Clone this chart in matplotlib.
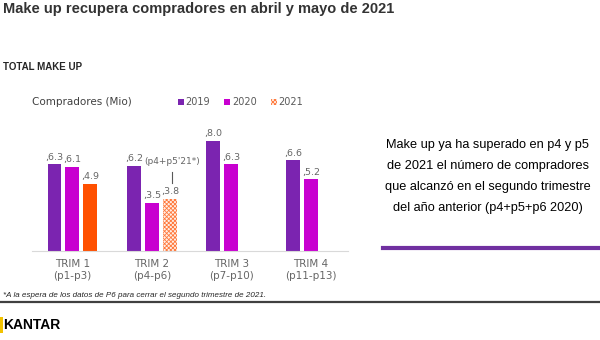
import matplotlib
matplotlib.use("Agg")
import matplotlib.pyplot as plt
import numpy as np
from matplotlib.patches import Rectangle
from matplotlib.lines import Line2D

# Data
quarters = ["TRIM 1", "TRIM 2", "TRIM 3", "TRIM 4"]
periods = ["(p1-p3)", "(p4-p6)", "(p7-p10)", "(p11-p13)"]
years = ["2019", "2020", "2021"]
buyers_2019 = [6.3, 6.2, 8.0, 6.6]
buyers_2020 = [6.1, 3.5, 6.3, 5.2]
buyers_2021 = [4.9, 3.8, None, None]

C2019 = "#7B24B0"
C2020 = "#C800D0"
C2021 = "#FF5000"
GREY = "#595959"

plt.rcParams["hatch.linewidth"] = 0.6

W, H = 600, 340
fig = plt.figure(figsize=(W / 100, H / 100), dpi=100)


def fx(x):
    return x / W


def fy(y):
    return 1 - y / H


# chart axes: left 32px, right 348px, baseline 250.7px, 13.7 px per unit
ax = fig.add_axes([fx(32), fy(250.7), fx(316), 137 / H])
ax.set_xlim(-0.509, 3.466)
ax.set_ylim(0, 10)
for s in ["top", "right", "left"]:
    ax.spines[s].set_visible(False)
ax.spines["bottom"].set_color("#D9D9D9")
ax.spines["bottom"].set_linewidth(0.8)
ax.set_yticks([])

x = np.arange(len(quarters))
bw = 0.176
off = 0.226

series = [(buyers_2019, C2019), (buyers_2020, C2020), (buyers_2021, C2021)]
for i, (vals, col) in enumerate(series):
    for j, v in enumerate(vals):
        if v is None:
            continue
        xpos = x[j] + (i - 1) * off
        hatched = (i == 2 and j == 1)
        if hatched:
            ax.bar(xpos, v, bw, color="#FFF0E8", edgecolor="#FF7A3D",
                   hatch="xxxxxxxx", linewidth=0)
        else:
            ax.bar(xpos, v, bw, color=col, linewidth=0)
        ax.text(xpos, v + 0.2, f",{v:.1f}", ha="center", va="bottom",
                fontsize=6.8, color="#666666")

# annotation for the partial 2021 quarter
xa = x[1] + off + 0.02
ax.plot([xa, xa], [buyers_2021[1] + 1.12, buyers_2021[1] + 1.97],
        color=GREY, lw=0.8)
ax.text(xa + 0.01, buyers_2021[1] + 2.7, "(p4+p5'21*)", ha="center", va="center",
        fontsize=6.5, color="#666666")

ax.set_xticks(x)
ax.set_xticklabels([f"{q}\n{p}" for q, p in zip(quarters, periods)],
                   fontsize=7.5, color="#666666", linespacing=1.25)
ax.tick_params(axis="x", length=0, pad=6)

# legend
fig.text(fx(32), fy(101.7), "Compradores (Mio)", fontsize=7.5, color="#404040",
         va="center", ha="left")
leg_cols = [C2019, C2020, C2021]
for k, (lx, yr) in enumerate(zip([177.7, 224, 270.7], years)):
    if k == 2:
        r = Rectangle((fx(lx), fy(105)), fx(6), 6 / H, transform=fig.transFigure,
                      facecolor="#FFF0E8", edgecolor="#FF7A3D", hatch="xxxxxxxx",
                      lw=0)
    else:
        r = Rectangle((fx(lx), fy(105)), fx(6), 6 / H, transform=fig.transFigure,
                      facecolor=leg_cols[k], lw=0)
    fig.add_artist(r)
    fig.text(fx(lx + 8), fy(101.7), yr, fontsize=7, color=GREY,
             va="center", ha="left")

# titles
fig.text(fx(3), fy(9), "Make up recupera compradores en abril y mayo de 2021",
         fontsize=10.5, fontweight="bold", color="#333333",
         family="Liberation Sans", va="center", ha="left")
fig.text(fx(3), fy(67.5), "TOTAL MAKE UP", fontsize=7, fontweight="bold",
         color="#262626", family="Liberation Sans", va="center", ha="left")

# side comment
side_lines = ["Make up ya ha superado en p4 y p5",
              "de 2021 el número de compradores",
              "que alcanzó en el segundo trimestre",
              "del año anterior (p4+p5+p6 2020)"]
for k, line in enumerate(side_lines):
    fig.text(fx(488), fy(145 + 21 * k), line, fontsize=9.2, color="black",
             family="Liberation Sans", va="center", ha="center")
fig.add_artist(Line2D([fx(383), fx(598)], [fy(248), fy(248)],
                      transform=fig.transFigure, color="#7030A0", lw=3))

# footer
fig.text(fx(3), fy(295.5),
         "*A la espera de los datos de P6 para cerrar el segundo trimestre de 2021.",
         fontsize=5.8, style="italic", color="#262626", family="Liberation Sans",
         va="center", ha="left")
fig.add_artist(Line2D([0, 1], [fy(302), fy(302)], transform=fig.transFigure,
                      color="#404040", lw=1.6))
fig.add_artist(Rectangle((0, fy(333)), fx(3), 16 / H, transform=fig.transFigure,
                         facecolor="#F2C200", lw=0))
fig.text(fx(3), fy(325), "KANTAR", fontsize=10, fontweight="bold", color="black",
         family="Liberation Sans", va="center", ha="left")

fig.savefig("out.png", dpi=100, facecolor="white")
